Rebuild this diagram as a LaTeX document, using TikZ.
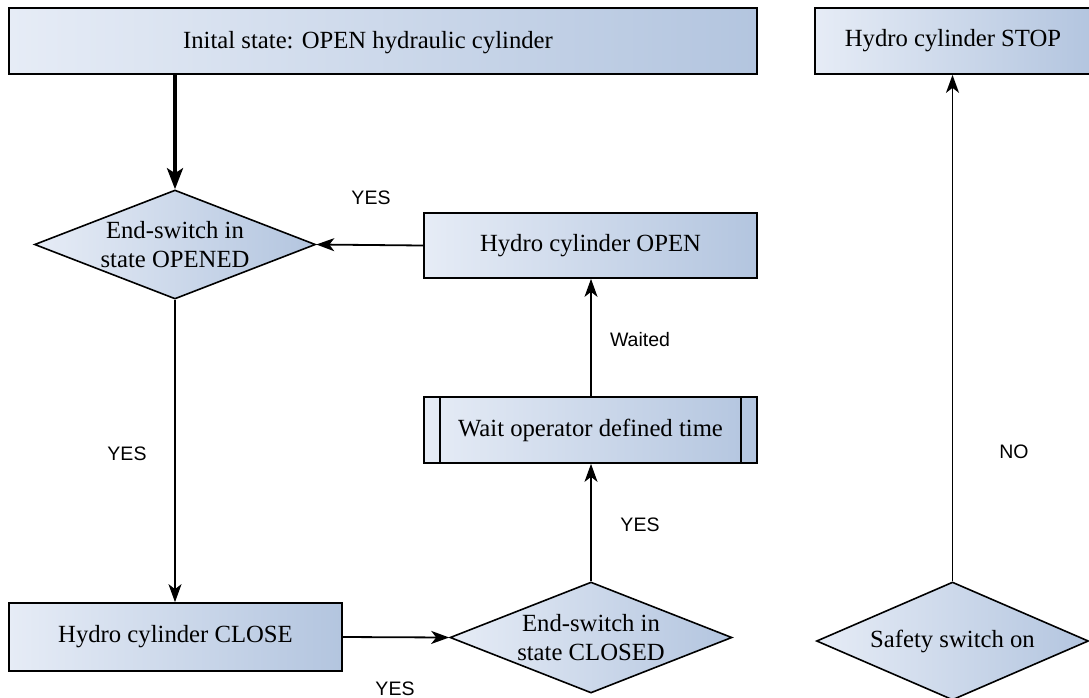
\documentclass[tikz,border=0pt]{standalone}
\usepackage{fontspec}
\setmainfont{Liberation Serif}
\newfontfamily\lblfont{Liberation Sans}
\usetikzlibrary{shapes.geometric,arrows.meta}

\definecolor{fillL}{HTML}{E6ECF6}
\definecolor{fillR}{HTML}{B3C5DF}

\tikzset{
  procbox/.style={draw=black, line width=1.7pt, left color=fillL, right color=fillR,
    rectangle, inner sep=0pt, font=\fontsize{24.7}{28.5}\selectfont, align=center},
  decision/.style={draw=black, line width=1.6pt, left color=fillL, right color=fillR,
    diamond, inner sep=0pt},
  dtext/.style={font=\fontsize{24.7}{28.5}\selectfont, align=center, inner sep=0pt},
  flow/.style={line width=1.8pt, -{Stealth[length=18pt,width=13pt,inset=5pt]}},
  mainflow/.style={line width=3.6pt, -{Stealth[length=21pt,width=16pt,inset=5pt]}},
  edgelbl/.style={font=\lblfont\fontsize{19.5}{22}\selectfont, anchor=base, inner sep=0pt}
}

\begin{document}
\begin{tikzpicture}[x=1pt,y=-1pt]
  \useasboundingbox (0,0) rectangle (1089,697);
  \clip (0,0) rectangle (1089,697);

  % process boxes
  \node[procbox, minimum width=748pt, minimum height=66pt] (init) at (383,41) {};
  \node[dtext] (inittext) at (368,43) {Inital state: OPEN hydraulic cylinder};
  \node[procbox, minimum width=276pt, minimum height=66pt] (stop) at (953,41)
    {Hydro cylinder STOP};
  \node[procbox, minimum width=333pt, minimum height=65pt] (open) at (590.5,245.5)
    {Hydro cylinder OPEN};
  \node[procbox, minimum width=333pt, minimum height=66pt] (wait) at (590.5,430)
    {Wait operator defined time};
  \draw[line width=1.6pt] ([xshift=17pt]wait.north west) -- ([xshift=17pt]wait.south west);
  \draw[line width=1.6pt] ([xshift=-17pt]wait.north east) -- ([xshift=-17pt]wait.south east);
  \node[procbox, minimum width=333pt, minimum height=68pt] (close) at (175.5,637)
    {Hydro cylinder CLOSE};

  % decisions
  \node[decision, minimum width=281pt, minimum height=109pt] (dopen) at (175,244.5) {};
  \node[dtext] at (dopen.center) {End-switch in\\state OPENED};
  \node[decision, minimum width=282pt, minimum height=111pt] (dclosed) at (591,637.5) {};
  \node[dtext] at (dclosed.center) {End-switch in\\state CLOSED};
  \node[decision, minimum width=272pt, minimum height=118pt] (safety) at (952.5,641) {};
  \node[dtext] at (safety.center) {Safety switch on};

  % connectors
  \draw[mainflow] (init.south -| dopen.north) -- (dopen.north);
  \draw[flow] (dopen.south) -- (close.north -| dopen.south);
  \draw[flow] (close.east) -- (dclosed.west);
  \draw[flow] (dclosed.north) -- (wait.south -| dclosed.north);
  \draw[flow] (wait.north -| dclosed.north) -- (open.south -| dclosed.north);
  \draw[flow] (open.west) -- (dopen.east);
  \draw[flow] (safety.north) -- (stop.south -| safety.north);

  % connector labels
  \node[edgelbl] (l1) at (371,204) {YES};
  \node[edgelbl] (l2) at (127,460) {YES};
  \node[edgelbl] (l3) at (640,346) {Waited};
  \node[edgelbl] (l4) at (640,531) {YES};
  \node[edgelbl] (l5) at (395,695) {YES};
  \node[edgelbl] (l6) at (1014,458) {NO};
\end{tikzpicture}
\end{document}
